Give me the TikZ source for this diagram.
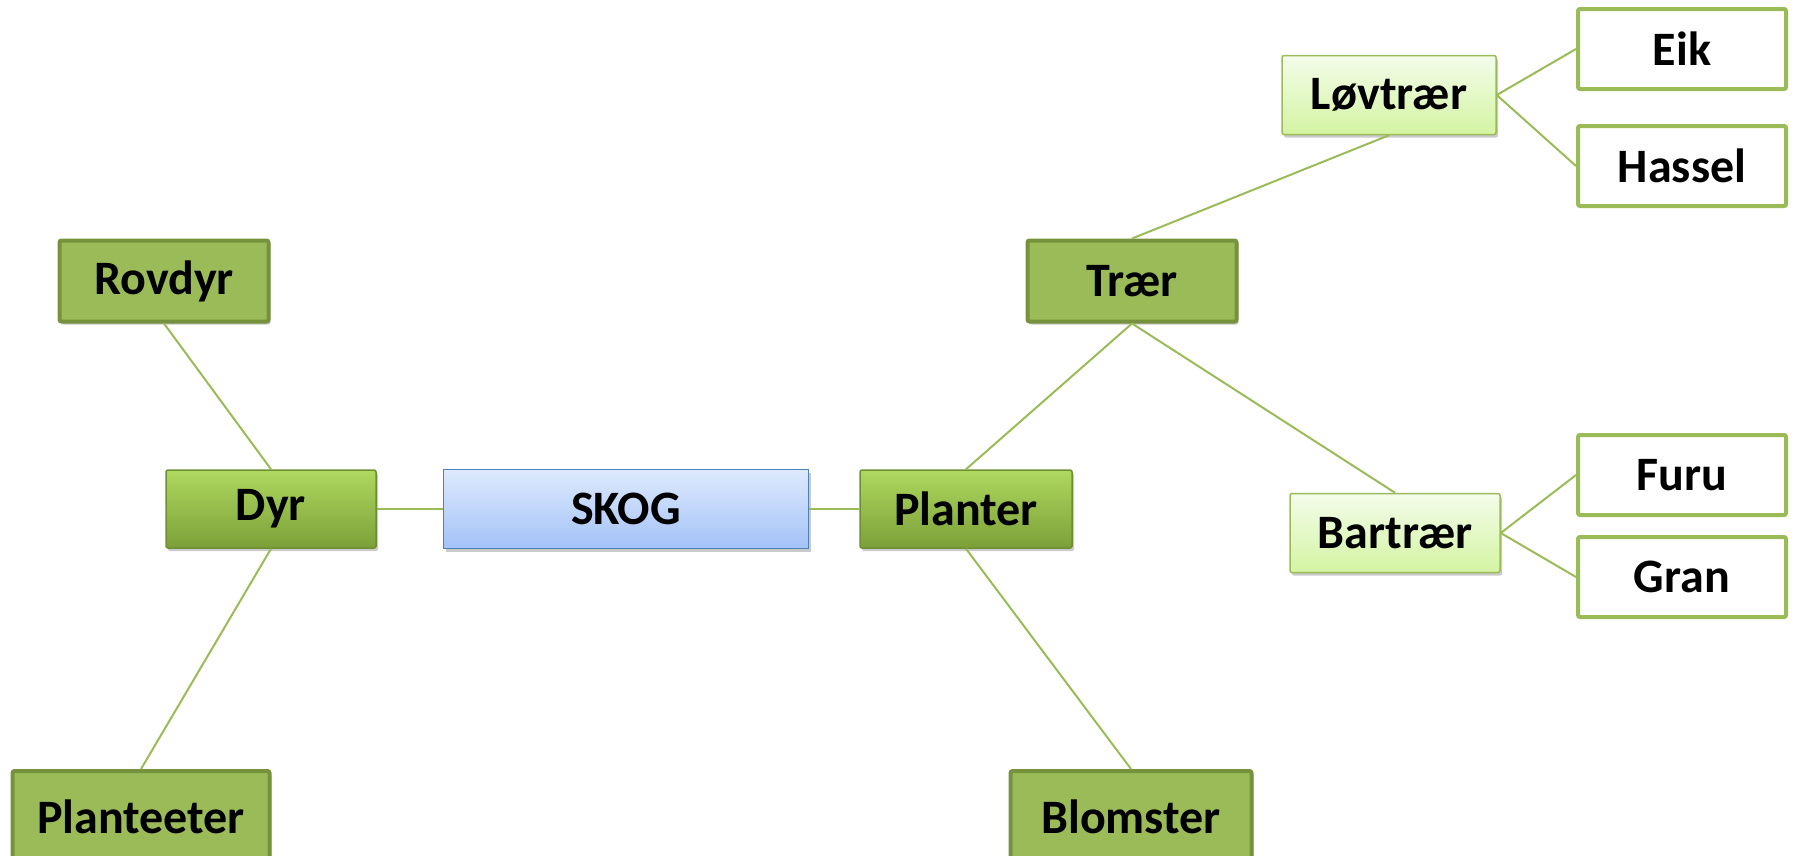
\documentclass[tikz,border=0pt]{standalone}
\usepackage{fontspec}
\setmainfont{Carlito}
\usetikzlibrary{shadows}
\definecolor{olivefill}{HTML}{9BBB59}
\definecolor{olivedark}{HTML}{76923C}
\definecolor{gradtop}{HTML}{AED85F}
\definecolor{gradbot}{HTML}{7CA038}
\definecolor{gradedge}{HTML}{6E8F32}
\definecolor{skogtop}{HTML}{DEEAFD}
\definecolor{skogbot}{HTML}{A3C2F8}
\definecolor{skogedge}{HTML}{4F81BD}
\definecolor{lighttop}{HTML}{F3FCEA}
\definecolor{lightbot}{HTML}{D4F4A2}
\begin{document}
\begin{tikzpicture}[x=1pt,y=-1pt,
  every node/.style={font=\fontsize{48}{52}\selectfont\bfseries, inner sep=0pt, align=center},
  basebox/.style={rectangle, rounded corners=2pt,
    drop shadow={shadow xshift=2pt, shadow yshift=-3pt, opacity=0.35, fill=black!60}},
  darkbox/.style={basebox, fill=olivefill, draw=olivedark, line width=4pt, minimum width=209pt, minimum height=81pt},
  gradbox/.style={basebox, top color=gradtop, bottom color=gradbot, draw=gradedge, line width=1.5pt, minimum width=210pt, minimum height=78pt},
  skogbox/.style={basebox, rounded corners=0pt, top color=skogtop, bottom color=skogbot, draw=skogedge, line width=1.5pt, minimum width=365pt, minimum height=79pt},
  lightbox/.style={basebox, top color=lighttop, bottom color=lightbot, draw=olivefill, line width=1.5pt, minimum width=214pt, minimum height=79pt},
  whitebox/.style={rectangle, rounded corners=2pt, fill=white, draw=olivefill, line width=4pt, minimum width=208pt, minimum height=80pt},
  link/.style={draw=olivefill, line width=2pt}]
\useasboundingbox (0,0) rectangle (1796,855);

\node[darkbox] (rov) at (164,281) {Rovdyr};
\node[gradbox] (dyr) at (271,509) {Dyr};
\node[skogbox] (skog) at (626,509) {SKOG};
\node[gradbox, minimum width=212pt] (pla) at (966,509) {Planter};
\node[darkbox, minimum width=257pt, minimum height=92pt] (pe) at (141,817) {Planteeter};
\node[darkbox, minimum width=241pt, minimum height=92pt] (blo) at (1131,817) {Blomster};
\node[darkbox] (trae) at (1132,281) {Trær};
\node[lightbox] (lov) at (1389,95) {Løvtrær};
\node[lightbox, minimum width=210pt] (bar) at (1395,533) {Bartrær};
\node[whitebox] (eik) at (1682,49) {Eik};
\node[whitebox] (has) at (1682,166) {Hassel};
\node[whitebox] (furu) at (1682,475) {Furu};
\node[whitebox] (gran) at (1682,577) {Gran};

\draw[link] (rov.south) -- (dyr.north);
\draw[link] (dyr.south) -- (pe.north);
\draw[link] (dyr.east) -- (skog.west);
\draw[link] (skog.east) -- (pla.west);
\draw[link] (pla.north) -- (trae.south);
\draw[link] (pla.south) -- (blo.north);
\draw[link] (trae.north) -- (lov.south);
\draw[link] (trae.south) -- (bar.north);
\draw[link] (lov.east) -- (eik.west);
\draw[link] (lov.east) -- (has.west);
\draw[link] (bar.east) -- (furu.west);
\draw[link] (bar.east) -- (gran.west);
\end{tikzpicture}
\end{document}
